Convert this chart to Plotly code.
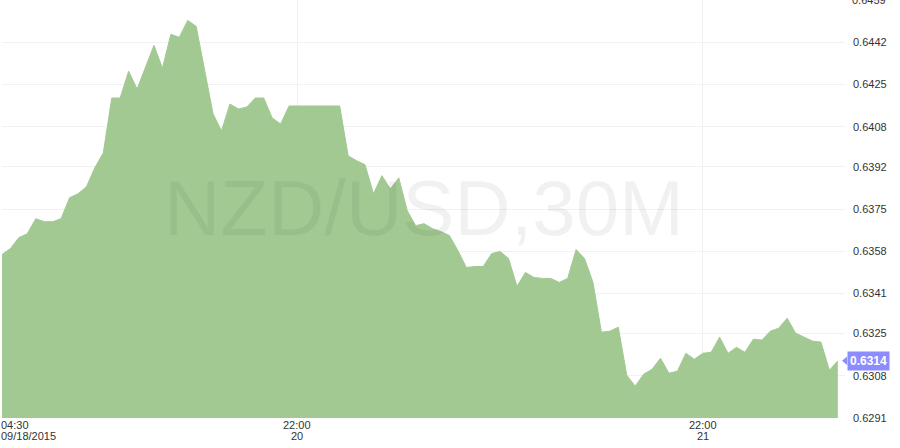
import pandas as pd
import plotly.graph_objects as go

# 30 minute bars, Friday session then the new week from Sunday evening
friday = pd.date_range("2015-09-18 04:30", "2015-09-18 21:00", freq="30min")
week = pd.date_range("2015-09-20 21:30", periods=66, freq="30min")
times = [t.strftime("%Y-%m-%d %H:%M") for t in list(friday) + list(week)]

close = [
    0.63567, 0.63591, 0.63635, 0.63651, 0.63711, 0.63699, 0.63699, 0.63711, 0.63795, 0.63811,
    0.63839, 0.63916, 0.63976, 0.64196, 0.64196, 0.64304, 0.64232, 0.64324, 0.64408, 0.64316,
    0.64452, 0.64440, 0.64508, 0.64484, 0.64312, 0.64132, 0.64064, 0.64172, 0.64152, 0.64160,
    0.64196, 0.64196, 0.64116, 0.64092, 0.64164, 0.64164, 0.64164, 0.64164, 0.64164, 0.64164,
    0.64164, 0.63964, 0.63944, 0.63928, 0.63811, 0.63884, 0.63831, 0.63875, 0.63743, 0.63683,
    0.63691, 0.63671, 0.63659, 0.63643, 0.63583, 0.63515, 0.63519, 0.63519, 0.63571, 0.63579,
    0.63551, 0.63439, 0.63495, 0.63475, 0.63471, 0.63471, 0.63455, 0.63471, 0.63587, 0.63551,
    0.63455, 0.63255, 0.63259, 0.63275, 0.63082, 0.63038, 0.63086, 0.63106, 0.63150, 0.63090,
    0.63098, 0.63170, 0.63146, 0.63170, 0.63174, 0.63235, 0.63170, 0.63194, 0.63174, 0.63227,
    0.63223, 0.63259, 0.63271, 0.63311, 0.63251, 0.63235, 0.63219, 0.63215, 0.63102, 0.63140,
]

y_ticks = [0.6291, 0.6308, 0.6325, 0.6341, 0.6358, 0.6375, 0.6392, 0.6408, 0.6425, 0.6442, 0.6459]
x_tick_idx = [0, 35, 83]
x_tick_top = ["04:30", "22:00", "22:00"]
x_tick_bottom = ["09/18/2015", "20", "21"]
last_price = close[-1]

green = "#a3c993"
grid = "#f2f2f2"
font = "Liberation Sans, Arial, sans-serif"

fig = go.Figure()
fig.add_trace(go.Scatter(
    x=times, y=close, mode="lines", fill="tozeroy",
    line=dict(color=green, width=1), fillcolor=green,
    hoverinfo="skip", showlegend=False,
))

fig.update_xaxes(
    type="category", range=[0, 99.85], automargin=False,
    tickvals=[times[i] for i in x_tick_idx], showticklabels=False,
    showgrid=True, gridcolor="#f0f0f0", gridwidth=1, zeroline=False,
    showline=False, ticks="",
)
fig.update_yaxes(
    side="right", range=[0.6291, 0.6459], automargin=False,
    tickvals=y_ticks, ticktext=["%.4f" % v for v in y_ticks],
    showgrid=True, gridcolor=grid, gridwidth=1, zeroline=False,
    ticks="", ticklabelstandoff=7,
    tickfont=dict(family=font, size=11, color="#333"),
)

ann = []
# big watermark
ann.append(dict(
    text="NZD/USD,30M", xref="paper", yref="paper", x=0.5, y=0.502,
    xanchor="center", yanchor="middle", showarrow=False,
    font=dict(family=font, size=78, color="rgba(0,0,0,0.055)"),
))
# top tick label sits on the edge of the page, plotly drops it, so place it by hand
ann.append(dict(
    text="%.4f" % y_ticks[-1], xref="paper", yref="y", x=1, y=y_ticks[-1],
    xanchor="left", yanchor="middle", xshift=5, showarrow=False,
    font=dict(family=font, size=11, color="#333"),
))
# time labels under the axis
for k, i in enumerate(x_tick_idx):
    anchor = "left" if k == 0 else "center"
    shift = -3 if k == 0 else 0
    for txt, dy in ((x_tick_top[k], -7), (x_tick_bottom[k], -18)):
        ann.append(dict(
            text=txt, xref="x", yref="paper", x=times[i], y=0,
            xanchor=anchor, yanchor="middle", xshift=shift, yshift=dy,
            showarrow=False, font=dict(family=font, size=11, color="#333"),
        ))
# current price tag
ann.append(dict(
    text="<b>%.4f</b>" % last_price, xref="paper", yref="y", x=1, y=last_price,
    xanchor="left", yanchor="middle", xshift=2, showarrow=False,
    bgcolor="#8c8cff", borderpad=2,
    font=dict(family=font, size=12, color="white"),
))
fig.update_layout(annotations=ann)

fig.add_shape(
    type="path", xref="paper", yref="y",
    path="M 0.9965,%f L 1.0025,%f L 1.0025,%f Z" % (
        last_price, last_price + 0.00017, last_price - 0.00017),
    fillcolor="#8c8cff", line=dict(width=0),
)

fig.update_layout(
    width=900, height=448,
    margin=dict(l=2, r=55, t=0, b=30),
    paper_bgcolor="white", plot_bgcolor="white",
    font=dict(family=font),
)

# page body margin would shift the whole chart by 8px
fig.write_html("out.html", config={"displayModeBar": False},
               post_script="document.body.style.margin='0';")
